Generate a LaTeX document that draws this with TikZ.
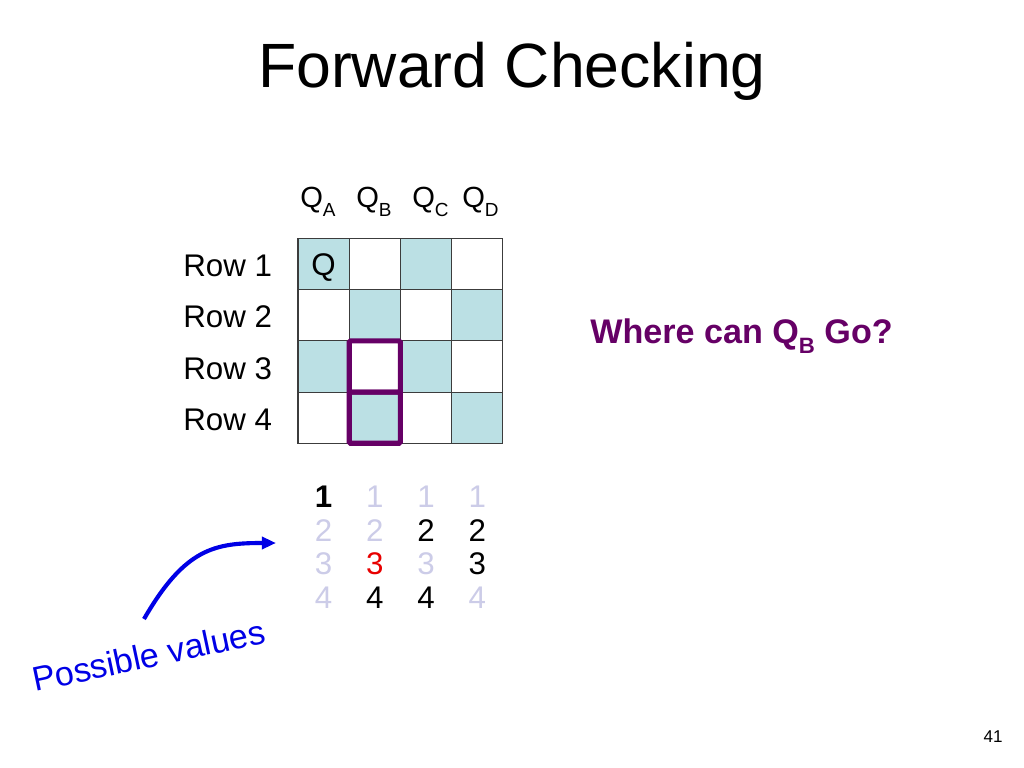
\documentclass[tikz,border=0pt]{standalone}
\usepackage{fontspec}
\setmainfont{Liberation Sans}
\usetikzlibrary{arrows.meta}
\definecolor{cellblue}{RGB}{187,224,228}
\definecolor{qpurple}{RGB}{102,0,102}
\definecolor{faded}{RGB}{204,204,232}
\definecolor{arrowblue}{RGB}{0,0,230}
\definecolor{redval}{RGB}{232,0,0}
\definecolor{gridgray}{RGB}{60,60,60}
\newcommand\mysubscr[1]{\raisebox{-0.3em}{\scalebox{0.65}{#1}}}
\newcommand\fsz[1]{\fontsize{#1}{#1}\selectfont}
\begin{document}
\begin{tikzpicture}[x=0.703125pt,y=-0.703125pt,
  cellbox/.style={draw=gridgray,line width=0.8pt,minimum size=36pt,inner sep=0pt,outer sep=0pt},
  lbl/.style={inner sep=0pt,font=\fsz{22}},
  hdr/.style={inner sep=0pt,anchor=base west,font=\fsz{20.5}},
  val/.style={inner sep=0pt,anchor=base,font=\fsz{22}},
  purplebox/.style={draw=qpurple,line width=3.6pt,rounded corners=1pt},
  curvearrow/.style={draw=arrowblue,line width=2.9pt,-{Triangle[length=10pt,width=8.5pt]}}]
\useasboundingbox (0,0) rectangle (1024,768);
\fill[white] (0,0) rectangle (1024,768);
% title
\node[inner sep=0pt,anchor=base,font=\fsz{44}] (title) at (512,88) {Forward Checking};
% grid cells
\foreach \c [count=\i from 0] in {A,B,C,D}{
  \foreach \r in {1,...,4}{
    \pgfmathtruncatemacro\m{\i+\r}
    \ifodd\m \def\cellfill{cellblue}\else\def\cellfill{white}\fi
    \node[cellbox,fill=\cellfill] (c\c\r) at ({323.6+51.2*\i},{264.1+51.2*(\r-1)}) {};
  }
}
% column headers
\node[hdr] (qA) at (300,208) {Q\mysubscr{A}};
\node[hdr] (qB) at (356,208) {Q\mysubscr{B}};
\node[hdr] (qC) at (412,208) {Q\mysubscr{C}};
\node[hdr] (qD) at (462,208) {Q\mysubscr{D}};
% queen
\node[lbl,anchor=base] (queen) at (323.6,276) {Q};
% row labels
\node[lbl,anchor=base west] (row1) at (183,277) {Row 1};
\node[lbl,anchor=base west] (row2) at (183,328) {Row 2};
\node[lbl,anchor=base west] (row3) at (183,379) {Row 3};
\node[lbl,anchor=base west] (row4) at (183,430) {Row 4};
% purple boxes
\draw[purplebox] (cB3.north west) rectangle (cB3.south east);
\draw[purplebox] (cB4.north west) rectangle (cB4.south east);
% question
\node[inner sep=0pt,anchor=base west,font=\fsz{24}\bfseries,text=qpurple] (where) at (590,343) {Where can Q\mysubscr{B} Go?};
% possible values
\node[val] (a1) at (323.6,507) {\bfseries 1};
\node[val,text=faded] (a2) at (323.6,541) {2};
\node[val,text=faded] (a3) at (323.6,574) {3};
\node[val,text=faded] (a4) at (323.6,608) {4};
\node[val,text=faded] (b1) at (374.8,507) {1};
\node[val,text=faded] (b2) at (374.8,541) {2};
\node[val,text=redval] (b3) at (374.8,574) {3};
\node[val] (b4) at (374.8,608) {4};
\node[val,text=faded] (cc1) at (426.0,507) {1};
\node[val] (cc2) at (426.0,541) {2};
\node[val,text=faded] (cc3) at (426.0,574) {3};
\node[val] (cc4) at (426.0,608) {4};
\node[val,text=faded] (d1) at (477.2,507) {1};
\node[val] (d2) at (477.2,541) {2};
\node[val] (d3) at (477.2,574) {3};
\node[val,text=faded] (d4) at (477.2,608) {4};
% label and arrow
\node[inner sep=0pt,anchor=base west,rotate=12,font=\fsz{24},text=arrowblue] (possible) at (35,692) {Possible values};
\coordinate (astart) at (144,619);
\coordinate (aend) at (276,543);
\draw[curvearrow] (astart) .. controls (185,548) and (215,543) .. (aend);
% page number
\node[inner sep=0pt,anchor=base,font=\fsz{12}] (page) at (993,742) {41};
\end{tikzpicture}
\end{document}
